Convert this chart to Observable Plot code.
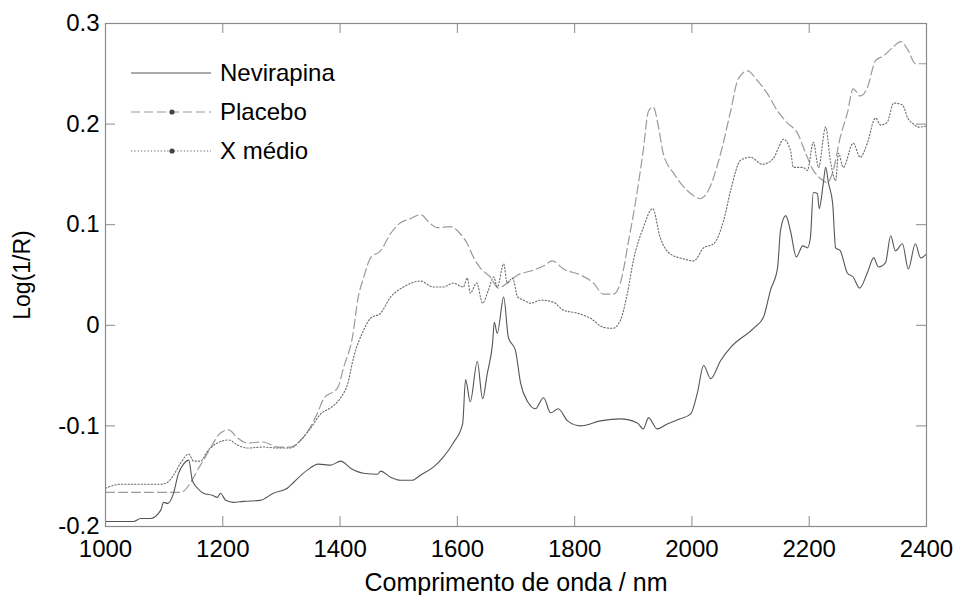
<!DOCTYPE html>
<html>
<head>
<meta charset="utf-8">
<script src="https://cdn.jsdelivr.net/npm/d3@7"></script>
<script src="https://cdn.jsdelivr.net/npm/@observablehq/plot@0.6"></script>
<style>
  html, body { margin: 0; padding: 0; background: #fff; }
  #chart { width: 957px; height: 595px; }
  svg { font-family: "Liberation Sans", Arial, sans-serif; }
</style>
</head>
<body>
<div id="chart"></div>
<script>
// Wavelength (nm) and Log(1/R) values
const nevirapinaNm = [1000,1048,1060,1077,1094,1099,1106,1116,1124,1133,1142,1148,1157,1167,1182,1191,1196,1205,1218,1235,1264,1286,1310,1321,1344,1363,1384,1401,1418,1440,1464,1469,1486,1503,1523,1537,1559,1576,1593,1609,1614,1622,1634,1643,1651,1660,1663,1668,1679,1687,1699,1708,1720,1733,1747,1759,1772,1788,1810,1844,1878,1907,1917,1926,1941,1958,1980,1998,2009,2020,2032,2049,2066,2105,2122,2134,2146,2151,2160,2168,2178,2189,2197,2202,2207,2214,2217,2224,2228,2233,2240,2245,2253,2265,2275,2286,2299,2310,2318,2330,2339,2347,2359,2369,2381,2390,2400];
const nevirapinaVal = [-0.195,-0.195,-0.192,-0.192,-0.184,-0.176,-0.177,-0.167,-0.148,-0.138,-0.134,-0.154,-0.162,-0.167,-0.169,-0.171,-0.167,-0.174,-0.176,-0.175,-0.174,-0.167,-0.162,-0.156,-0.144,-0.138,-0.139,-0.135,-0.142,-0.147,-0.148,-0.145,-0.151,-0.154,-0.154,-0.149,-0.141,-0.131,-0.117,-0.098,-0.054,-0.076,-0.036,-0.073,-0.048,-0.018,0.003,-0.008,0.028,-0.012,-0.025,-0.058,-0.076,-0.083,-0.072,-0.087,-0.083,-0.095,-0.100,-0.095,-0.093,-0.097,-0.103,-0.092,-0.103,-0.098,-0.093,-0.088,-0.068,-0.040,-0.053,-0.035,-0.022,-0.003,0.008,0.035,0.057,0.094,0.109,0.094,0.068,0.079,0.077,0.087,0.132,0.131,0.116,0.141,0.157,0.141,0.121,0.077,0.074,0.052,0.048,0.037,0.052,0.067,0.058,0.062,0.089,0.074,0.081,0.056,0.081,0.067,0.071];

const placeboNm = [1000,1128,1162,1179,1196,1210,1225,1242,1269,1293,1315,1338,1355,1363,1372,1396,1406,1421,1431,1440,1452,1469,1486,1503,1520,1537,1554,1566,1588,1605,1617,1628,1639,1656,1670,1685,1703,1725,1747,1762,1781,1810,1832,1849,1866,1878,1892,1907,1917,1926,1934,1943,1951,1969,1992,2015,2028,2049,2066,2079,2095,2112,2129,2146,2163,2180,2194,2207,2219,2231,2241,2253,2265,2275,2287,2299,2313,2327,2342,2356,2369,2381,2400];
const placeboVal = [-0.166,-0.166,-0.139,-0.122,-0.107,-0.104,-0.112,-0.117,-0.116,-0.121,-0.121,-0.111,-0.095,-0.085,-0.073,-0.062,-0.042,-0.012,0.028,0.047,0.067,0.074,0.091,0.102,0.106,0.110,0.101,0.097,0.098,0.091,0.081,0.067,0.057,0.048,0.037,0.042,0.050,0.054,0.059,0.064,0.056,0.050,0.042,0.031,0.031,0.042,0.084,0.134,0.174,0.213,0.217,0.197,0.171,0.151,0.134,0.126,0.134,0.171,0.213,0.245,0.253,0.243,0.230,0.213,0.201,0.191,0.171,0.154,0.146,0.142,0.154,0.187,0.211,0.235,0.228,0.236,0.263,0.268,0.276,0.282,0.273,0.260,0.260];

const xMedioNm = [1000,1026,1094,1106,1116,1128,1142,1150,1162,1174,1191,1210,1225,1242,1269,1293,1315,1333,1350,1367,1384,1401,1413,1423,1440,1452,1469,1486,1508,1537,1559,1576,1593,1610,1617,1622,1633,1643,1653,1662,1668,1679,1685,1694,1703,1713,1725,1742,1764,1781,1805,1827,1849,1865,1878,1890,1900,1917,1933,1946,1963,1986,2003,2020,2037,2054,2066,2083,2100,2120,2139,2148,2156,2168,2173,2189,2197,2207,2216,2228,2236,2245,2250,2258,2275,2287,2299,2313,2322,2333,2344,2359,2368,2378,2386,2400];
const xMedioVal = [-0.162,-0.158,-0.158,-0.156,-0.149,-0.137,-0.128,-0.135,-0.135,-0.125,-0.117,-0.114,-0.119,-0.122,-0.121,-0.122,-0.122,-0.114,-0.102,-0.088,-0.082,-0.072,-0.058,-0.032,-0.005,0.007,0.012,0.028,0.038,0.044,0.038,0.038,0.042,0.038,0.047,0.032,0.042,0.022,0.035,0.048,0.038,0.061,0.042,0.047,0.028,0.025,0.022,0.025,0.023,0.015,0.012,0.007,-0.002,-0.003,0.005,0.032,0.064,0.097,0.116,0.087,0.071,0.066,0.064,0.077,0.081,0.104,0.134,0.164,0.167,0.160,0.166,0.177,0.185,0.174,0.157,0.157,0.154,0.182,0.157,0.197,0.164,0.144,0.171,0.157,0.181,0.167,0.181,0.206,0.199,0.202,0.221,0.219,0.206,0.200,0.197,0.198];

const seriesNames = ["Nevirapina", "Placebo", "X médio"];
const xTicks = [1000, 1200, 1400, 1600, 1800, 2000, 2200, 2400];
const yTicks = [-0.2, -0.1, 0, 0.1, 0.2, 0.3];
const xLabel = "Comprimento de onda / nm";
const yLabel = "Log(1/R)";

const zip = (xs, ys) => xs.map((x, i) => ({x, y: ys[i]}));
const nev = zip(nevirapinaNm, nevirapinaVal);
const pla = zip(placeboNm, placeboVal);
const xme = zip(xMedioNm, xMedioVal);

const frameColor = "#8a8a8a";
const colNev = "#555";
const colPla = "#9a9a9a";
const colXme = "#6a6a6a";
const tickFs = 24;
const titleFs = 24;

const chart = Plot.plot({
  width: 957,
  height: 595,
  marginTop: 23,
  marginRight: 31,
  marginBottom: 69,
  marginLeft: 105,
  style: {fontFamily: '"Liberation Sans", Arial, sans-serif', fontSize: tickFs + "px", color: "#000", background: "#fff"},
  x: {domain: [1000, 2400]},
  y: {domain: [-0.2, 0.3]},
  marks: [
    // tick labels
    Plot.axisX(xTicks, {anchor: "bottom", tickSize: 0, tickPadding: 13, tickFormat: d => String(d), label: null, fontSize: tickFs, fill: "#000"}),
    Plot.axisY(yTicks, {anchor: "left", tickSize: 0, tickPadding: 6, tickFormat: d => String(d), label: null, fontSize: tickFs, fill: "#000"}),
    // inward ticks on all four sides (about 10 px long)
    Plot.ruleX(xTicks, {x: d => d, y1: -0.2, y2: -0.2 + 0.0099, stroke: frameColor}),
    Plot.ruleX(xTicks, {x: d => d, y1: 0.3, y2: 0.3 - 0.0099, stroke: frameColor}),
    Plot.ruleY(yTicks, {y: d => d, x1: 1000, x2: 1000 + 17, stroke: frameColor}),
    Plot.ruleY(yTicks, {y: d => d, x1: 2400, x2: 2400 - 17, stroke: frameColor}),
    // series
    Plot.line(pla, {x: "x", y: "y", stroke: colPla, strokeWidth: 1.2, strokeDasharray: "9,4", curve: "monotone-x"}),
    Plot.line(xme, {x: "x", y: "y", stroke: colXme, strokeWidth: 1.1, strokeDasharray: "1.3,2", curve: "monotone-x"}),
    Plot.line(nev, {x: "x", y: "y", stroke: colNev, strokeWidth: 1.1, curve: "monotone-x"}),
    Plot.frame({stroke: frameColor, strokeWidth: 1.2}),
    // axis titles
    Plot.text([xLabel], {frameAnchor: "bottom", dy: 47, lineAnchor: "top", fontSize: titleFs + 1, fill: "#000"}),
    Plot.text([yLabel], {frameAnchor: "left", dx: -83, rotate: -90, lineAnchor: "middle", textAnchor: "middle", fontSize: titleFs - 1, fill: "#000"})
  ]
});

document.getElementById("chart").appendChild(chart);

// legend (top-left, inside the frame)
const svg = d3.select(chart);
const leg = svg.append("g")
  .attr("font-family", '"Liberation Sans", Arial, sans-serif')
  .attr("font-size", 24)
  .attr("text-anchor", "start");
const legendStyles = [
  {name: seriesNames[0], stroke: colNev, dash: null, dot: false},
  {name: seriesNames[1], stroke: colPla, dash: "9,4", dot: true},
  {name: seriesNames[2], stroke: colXme, dash: "1.3,2", dot: true}
];
const rowY = [73, 112, 151];
legendStyles.forEach((s, i) => {
  const y = rowY[i];
  leg.append("line").attr("x1", 131).attr("x2", 211).attr("y1", y).attr("y2", y)
    .attr("stroke", s.stroke).attr("stroke-width", 1.1).attr("stroke-dasharray", s.dash);
  if (s.dot) leg.append("circle").attr("cx", 172).attr("cy", y).attr("r", 2.6).attr("fill", "#444");
  leg.append("text").attr("x", 220).attr("y", y).attr("dy", "0.35em").attr("fill", "#000")
    .attr("text-anchor", "start").text(s.name);
});
</script>
</body>
</html>
